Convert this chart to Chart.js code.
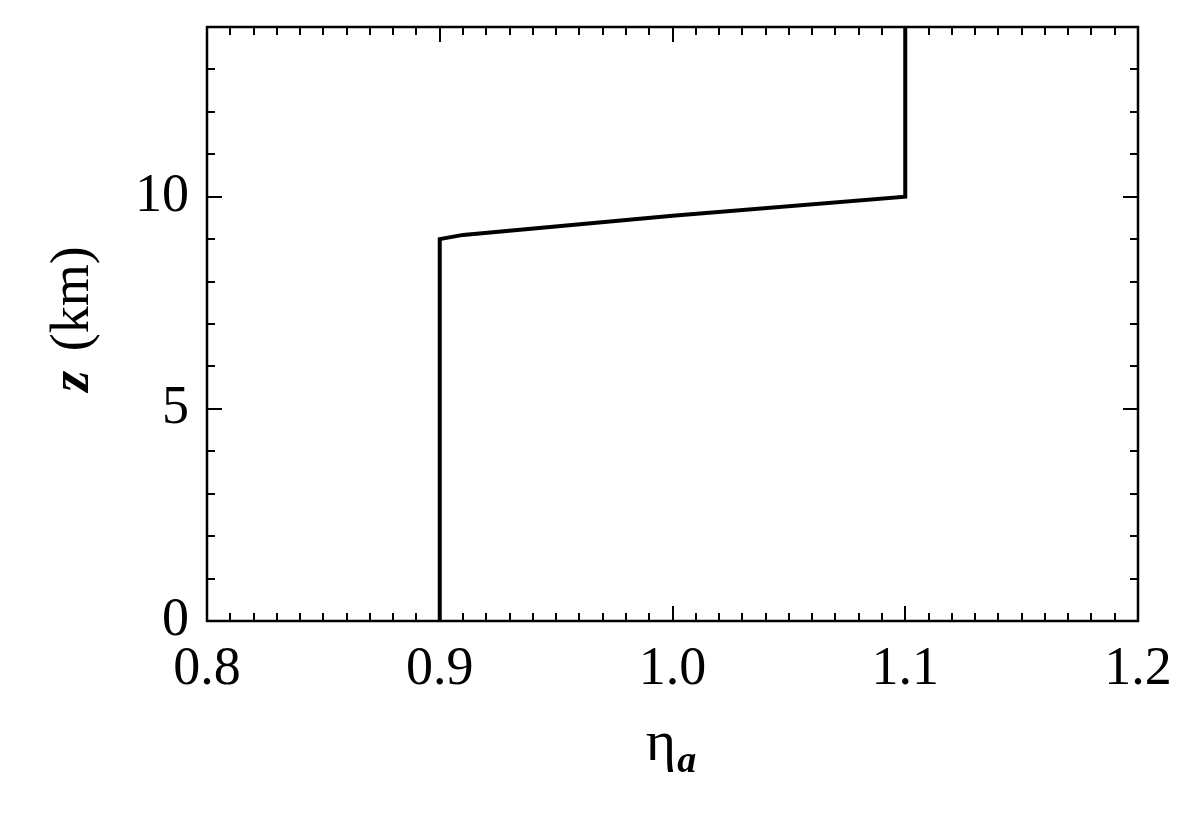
<!DOCTYPE html>
<html>
<head>
<meta charset="utf-8">
<script src="https://cdn.jsdelivr.net/npm/chart.js@4"></script>
<style>
html,body{margin:0;padding:0;background:#fff;}
#wrap{width:1200px;height:822px;}
</style>
</head>
<body>
<div id="wrap"><canvas id="c" width="1200" height="822"></canvas></div>
<script>
// Data
const etaValues = [0.9, 0.9, 0.91, 1.0, 1.1, 1.1];
const zValues   = [0,   9,   9.1,  9.55, 10, 14];
const xTickValues = [0.8, 0.9, 1.0, 1.1, 1.2];
const yTickValues = [0, 5, 10];
const xMinorStep = 0.01;
const yMinorStep = 1;
const xTitle = 'η';
const xTitleSub = 'a';
const yTitleItalic = 'z';
const yTitleRest = ' (km)';

const FONT = '"Liberation Serif", "DejaVu Serif", serif';

const points = etaValues.map((x, i) => ({x: x, y: zValues[i]}));

const framePlugin = {
  id: 'frame',
  afterDraw(chart) {
    const ctx = chart.ctx;
    const a = chart.chartArea;
    const xs = chart.scales.x, ys = chart.scales.y;
    ctx.save();
    ctx.strokeStyle = '#000';
    ctx.lineWidth = 2.5;
    ctx.strokeRect(a.left, a.top, a.right - a.left, a.bottom - a.top);
    ctx.lineWidth = 2;
    const nx = Math.round((xs.max - xs.min) / xMinorStep);
    for (let i = 0; i <= nx; i++) {
      const v = xs.min + i * xMinorStep;
      const px = Math.round(xs.getPixelForValue(v));
      const major = i % 10 === 0;
      const len = major ? 15 : 8;
      ctx.beginPath();
      ctx.moveTo(px, a.bottom); ctx.lineTo(px, a.bottom - len);
      ctx.moveTo(px, a.top); ctx.lineTo(px, a.top + len);
      ctx.stroke();
    }
    const ny = Math.round((ys.max - ys.min) / yMinorStep);
    for (let i = 0; i <= ny; i++) {
      const v = ys.min + i * yMinorStep;
      const py = Math.round(ys.getPixelForValue(v));
      const major = i % 5 === 0;
      const len = major ? 15 : 8;
      ctx.beginPath();
      ctx.moveTo(a.left, py); ctx.lineTo(a.left + len, py);
      ctx.moveTo(a.right, py); ctx.lineTo(a.right - len, py);
      ctx.stroke();
    }
    ctx.fillStyle = '#000';
    ctx.textBaseline = 'alphabetic';
    const cx = (a.left + a.right) / 2;
    ctx.font = '58px ' + FONT;
    const w1 = ctx.measureText(xTitle).width;
    ctx.font = 'italic bold 38px ' + FONT;
    const w2 = ctx.measureText(xTitleSub).width;
    const start = cx - (w1 + w2) / 2 - 2;
    ctx.font = '58px ' + FONT;
    ctx.textAlign = 'left';
    ctx.fillText(xTitle, start, 760);
    ctx.font = 'italic bold 38px ' + FONT;
    ctx.fillText(xTitleSub, start + w1 + 1, 772);
    ctx.save();
    ctx.translate(88, 322);
    ctx.rotate(-Math.PI / 2);
    ctx.font = 'italic bold 54px ' + FONT;
    const wz = ctx.measureText(yTitleItalic).width;
    ctx.font = '54px ' + FONT;
    const wr = ctx.measureText(yTitleRest).width;
    const s = -(wz + wr) / 2;
    ctx.font = 'italic bold 54px ' + FONT;
    ctx.fillText(yTitleItalic, s, 0);
    ctx.font = '54px ' + FONT;
    ctx.fillText(yTitleRest, s + wz + 6, 0);
    ctx.restore();
    ctx.restore();
  }
};

new Chart(document.getElementById('c'), {
  type: 'scatter',
  data: {
    datasets: [{
      data: points,
      showLine: true,
      borderColor: '#000',
      borderWidth: 4,
      pointRadius: 0,
      tension: 0,
      fill: false
    }]
  },
  options: {
    responsive: false,
    animation: false,
    devicePixelRatio: 1,
    layout: {padding: {left: 0, right: 62, top: 27, bottom: 0}},
    plugins: {legend: {display: false}, tooltip: {enabled: false}},
    scales: {
      x: {
        type: 'linear',
        min: 0.8, max: 1.2,
        afterBuildTicks(scale) { scale.ticks = xTickValues.map(v => ({value: v})); },
        afterFit(scale) { scale.height = 201; scale.paddingLeft = 0; scale.paddingRight = 0; },
        grid: {display: false, drawTicks: false},
        border: {display: false},
        ticks: {
          color: '#000',
          font: {family: FONT, size: 54},
          padding: 16,
          callback: v => Number(v).toFixed(1)
        }
      },
      y: {
        type: 'linear',
        min: 0, max: 14,
        afterBuildTicks(scale) { scale.ticks = yTickValues.map(v => ({value: v})); },
        afterFit(scale) { scale.width = 207; scale.paddingTop = 0; scale.paddingBottom = 0; },
        grid: {display: false, drawTicks: false},
        border: {display: false},
        ticks: {
          color: '#000',
          font: {family: FONT, size: 54},
          padding: 18,
          callback: v => String(v)
        }
      }
    }
  },
  plugins: [framePlugin]
});
</script>
</body>
</html>
